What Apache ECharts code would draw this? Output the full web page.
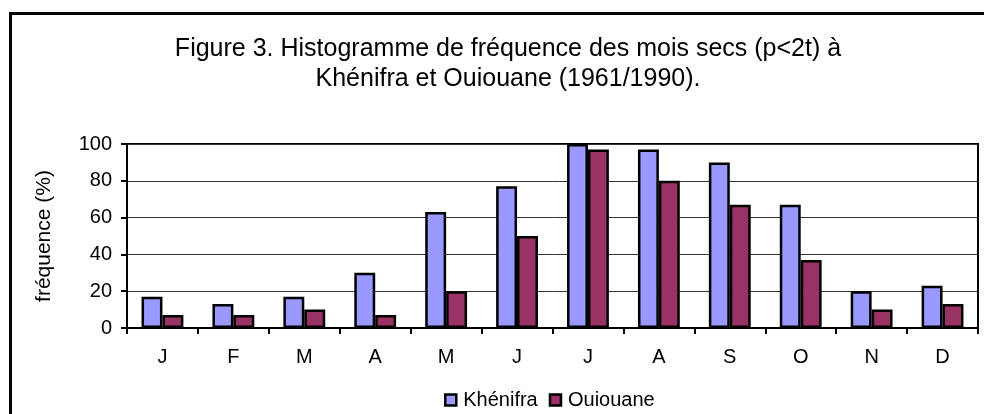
<!DOCTYPE html>
<html>
<head>
<meta charset="utf-8">
<script src="https://cdn.jsdelivr.net/npm/echarts@6/dist/echarts.min.js"></script>
<style>
html,body{margin:0;padding:0;background:#fff;}
#c{width:984px;height:414px;}
</style>
</head>
<body>
<div id="c"></div>
<script>
const categories = ['J','F','M','A','M','J','J','A','S','O','N','D'];
const khenifra = [17,13,17,30,63,77,100,97,90,67,20,23];
const ouiouane = [7,7,10,7,20,50,97,80,67,37,10,13];
const seriesNames = ['Khénifra','Ouiouane'];
const yTicks = {min:0, max:100, interval:20};

const chart = echarts.init(document.getElementById('c'), null, {renderer:'canvas'});
const font = 'Liberation Sans, Arial, Helvetica, sans-serif';
chart.setOption({
  animation:false,
  backgroundColor:'#fff',
  textStyle:{fontFamily:font},
  graphic:[{
    type:'rect', shape:{x:10.5, y:13.5, width:1000, height:420},
    style:{fill:'none', stroke:'#000', lineWidth:3}, z:-1
  }],
  title:{
    text:'Figure 3. Histogramme de fréquence des mois secs (p<2t) à\nKhénifra et Ouiouane (1961/1990).',
    left:503, top:29, textAlign:'center',
    textStyle:{fontFamily:font, fontSize:25, fontWeight:'normal', color:'#000', lineHeight:30}
  },
  legend:{
    data:seriesNames, top:385, left:439,
    icon:'rect', itemWidth:11, itemHeight:11, itemGap:11,
    textStyle:{fontFamily:font, fontSize:20, color:'#000', padding:[0,0,0,2]},
    itemStyle:{borderColor:'#000', borderWidth:2.5}
  },
  grid:{left:127, right:6, top:144, bottom:86, show:true, borderColor:'#000', borderWidth:2, containLabel:false},
  xAxis:{
    type:'category', data:categories,
    axisLine:{lineStyle:{color:'#000', width:2}},
    axisTick:{show:true, length:6, lineStyle:{color:'#000', width:2}},
    axisLabel:{color:'#000', fontSize:20, fontFamily:font, margin:19}
  },
  yAxis:{
    type:'value', min:yTicks.min, max:yTicks.max, interval:yTicks.interval,
    name:'fréquence (%)', nameLocation:'middle', nameGap:72,
    nameTextStyle:{color:'#000', fontSize:21, fontFamily:font},
    axisLine:{show:true, lineStyle:{color:'#000', width:2}},
    axisTick:{show:true, length:6, lineStyle:{color:'#000', width:2}},
    axisLabel:{color:'#000', fontSize:20, fontFamily:font, margin:15},
    splitLine:{lineStyle:{color:'#333', width:1}}
  },
  series:[
    {name:seriesNames[0], type:'bar', data:khenifra, barGap:'0%', barCategoryGap:'41%',
     itemStyle:{color:'#9999FF', borderColor:'#000', borderWidth:2.5}},
    {name:seriesNames[1], type:'bar', data:ouiouane, barGap:'0%', barCategoryGap:'41%',
     itemStyle:{color:'#993366', borderColor:'#000', borderWidth:2.5}}
  ]
});
</script>
</body>
</html>
